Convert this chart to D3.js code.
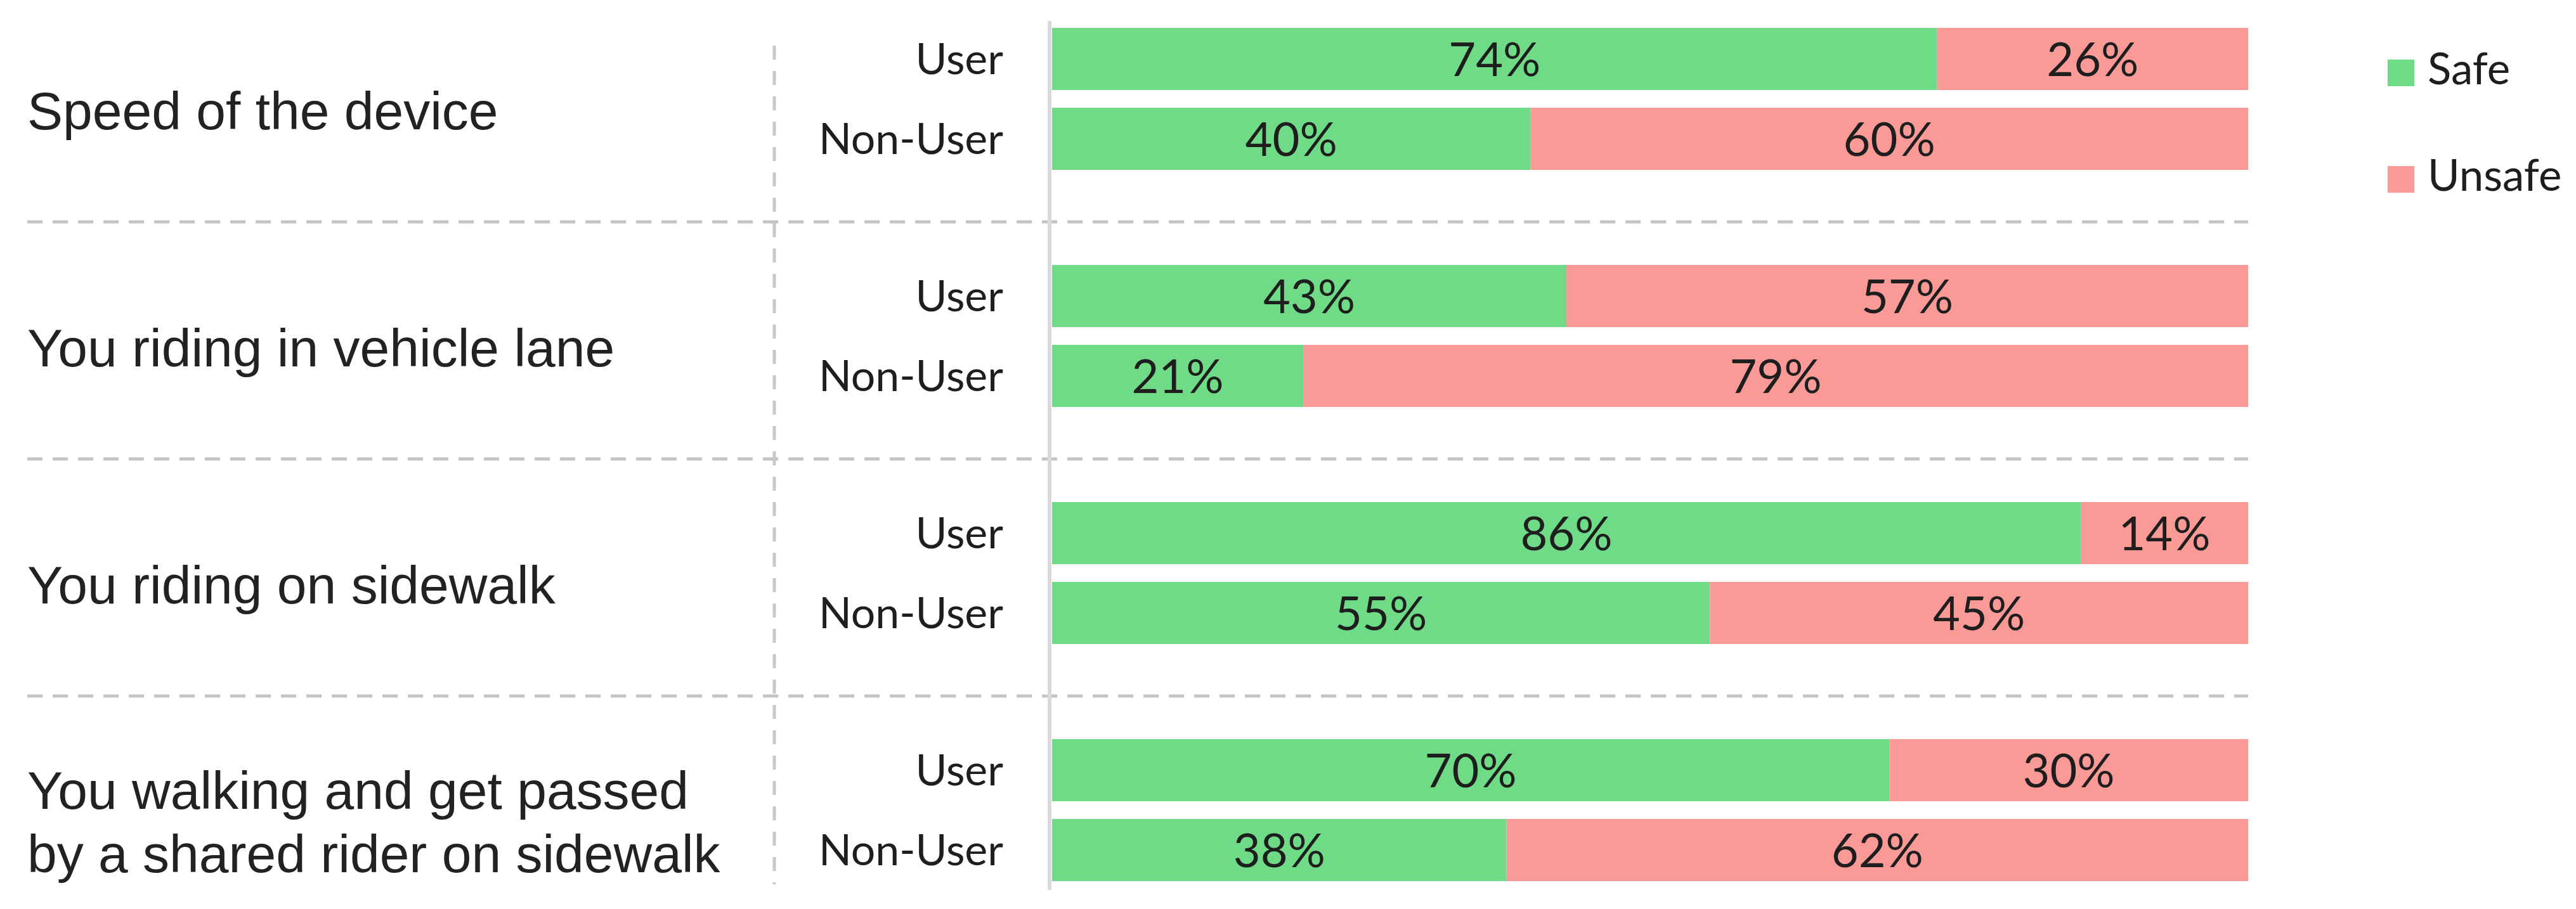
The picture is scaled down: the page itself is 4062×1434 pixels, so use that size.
<!DOCTYPE html>
<html>
<head>
<meta charset="utf-8">
<script src="https://cdn.jsdelivr.net/npm/d3@7"></script>
<style>
  html, body { margin: 0; padding: 0; background: #fff; }
  svg { display: block; }
</style>
</head>
<body>
<div id="chart"></div>
<script>
// survey data
const categories = [
    'Speed of the device',
    'You riding in vehicle lane',
    'You riding on sidewalk',
    'You walking and get passed by a shared rider on sidewalk'
];
const categoryLines = [
    ['Speed of the device'],
    ['You riding in vehicle lane'],
    ['You riding on sidewalk'],
    ['You walking and get passed', 'by a shared rider on sidewalk']
];
const groups = ['User', 'Non-User'];
const series = ['Safe', 'Unsafe'];
const safeUser = [74, 43, 86, 70];
const safeNonUser = [40, 21, 55, 38];
const unsafeUser = [26, 57, 14, 30];
const unsafeNonUser = [60, 79, 45, 62];

const rows = [];
categories.forEach((c, i) => {
    rows.push({category: c, group: 'User', Safe: safeUser[i], Unsafe: unsafeUser[i]});
    rows.push({category: c, group: 'Non-User', Safe: safeNonUser[i], Unsafe: unsafeNonUser[i]});
});

const width = 4062;
const height = 1434;
const colors = {Safe: '#70db87', Unsafe: '#fa9a97'};
const labelFont = '"Liberation Sans", Arial, Helvetica, sans-serif';
const valueFont = 'Lato, "Open Sans", sans-serif';

const svg = d3.select('#chart').append('svg')
    .attr('width', width)
    .attr('height', height);

const x = d3.scaleLinear()
    .domain([0, 100])
    .range([1659, 3545]);

const y = d3.scaleBand()
    .domain(categories)
    .range([-24, 1472]);

const sub = d3.scaleBand()
    .domain(groups)
    .range([68, 292])
    .paddingInner(0.222)
    .paddingOuter(0);

// group separators
svg.append('g')
  .selectAll('line')
  .data(categories.slice(1))
  .join('line')
    .attr('x1', 43)
    .attr('x2', x(100))
    .attr('y1', d => y(d))
    .attr('y2', d => y(d))
    .attr('stroke', '#c4c4c4')
    .attr('stroke-width', 5)
    .attr('stroke-dasharray', '24 16');

// vertical dashed divider
svg.append('line')
    .attr('x1', 1221).attr('x2', 1221)
    .attr('y1', 72).attr('y2', 1395)
    .attr('stroke', '#c8c8c8')
    .attr('stroke-width', 5)
    .attr('stroke-dasharray', '22 18');

// stacked bars
const stack = d3.stack().keys(series)(rows);

svg.append('g')
  .selectAll('g')
  .data(stack)
  .join('g')
    .attr('fill', d => colors[d.key])
  .selectAll('rect')
  .data(d => d)
  .join('rect')
    .attr('x', d => x(d[0]))
    .attr('y', d => y(d.data.category) + sub(d.data.group))
    .attr('width', d => x(d[1]) - x(d[0]))
    .attr('height', sub.bandwidth());

// value labels
svg.append('g')
    .attr('font-family', valueFont)
    .attr('font-size', 74)
    .attr('fill', '#1e1e1e')
    .attr('text-anchor', 'middle')
  .selectAll('g')
  .data(stack)
  .join('g')
  .selectAll('text')
  .data(d => d)
  .join('text')
    .attr('x', d => (x(d[0]) + x(d[1])) / 2)
    .attr('y', d => y(d.data.category) + sub(d.data.group) + sub.bandwidth() / 2)
    .attr('dy', '0.36em')
    .text(d => (d[1] - d[0]) + '%');

// axis line
svg.append('line')
    .attr('x1', 1655).attr('x2', 1655)
    .attr('y1', 33).attr('y2', 1404)
    .attr('stroke', '#d9d9d9')
    .attr('stroke-width', 6);

// User / Non-User labels
categories.forEach(c => {
    const g = svg.append('g')
        .attr('transform', `translate(1582,${y(c)})`)
        .call(d3.axisLeft(sub).tickSize(0).tickPadding(0));
    g.select('.domain').remove();
    g.selectAll('text')
        .attr('font-family', valueFont)
        .attr('font-size', 68)
        .attr('fill', '#1e1e1e')
        .attr('dy', '0.36em');
});

// category labels
const lineGap = 100;
svg.append('g')
    .attr('font-family', labelFont)
    .attr('font-size', 84)
    .attr('fill', '#222')
  .selectAll('text')
  .data(categories)
  .join('text')
    .attr('x', 43)
    .attr('y', (d, i) => {
        const mid = y(d) + (sub('User') + sub('Non-User') + sub.bandwidth()) / 2 + 18;
        const n = categoryLines[i].length;
        return mid + 30 - (n - 1) * lineGap / 2;
    })
  .selectAll('tspan')
  .data((d, i) => categoryLines[i])
  .join('tspan')
    .attr('x', 43)
    .attr('dy', (d, j) => j === 0 ? 0 : lineGap)
    .text(d => d);

// legend
const legend = svg.append('g')
    .attr('transform', 'translate(3765,94)');
const item = legend.selectAll('g')
  .data(series)
  .join('g')
    .attr('transform', (d, i) => `translate(0,${i * 168})`);
item.append('rect')
    .attr('width', 42)
    .attr('height', 42)
    .attr('fill', d => colors[d]);
item.append('text')
    .attr('x', 63)
    .attr('y', 39)
    .attr('font-family', valueFont)
    .attr('font-size', 69)
    .attr('fill', '#1e1e1e')
    .text(d => d);
</script>
</body>
</html>
